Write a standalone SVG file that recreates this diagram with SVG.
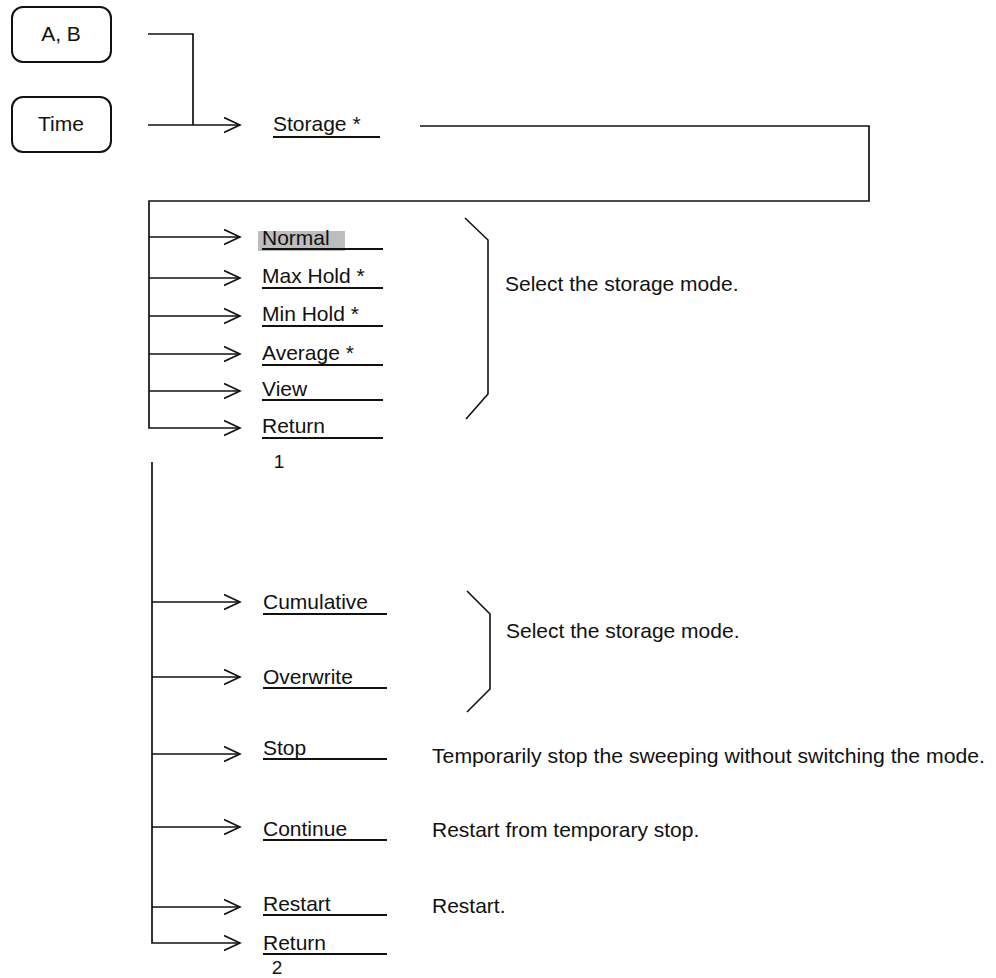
<svg xmlns="http://www.w3.org/2000/svg" width="996" height="978" viewBox="0 0 996 978">
<defs>
<style>
text{font-family:"Liberation Sans",Arial,sans-serif;font-size:21px;fill:#111}
.box{fill:#fff;stroke:#111;stroke-width:2}
.c{fill:none;stroke:#111;stroke-width:1.7}
.ul{stroke:#111;stroke-width:2}
.br{fill:none;stroke:#111;stroke-width:1.6}
</style>
<marker id="arr" markerUnits="userSpaceOnUse" markerWidth="18" markerHeight="18" refX="16" refY="8" orient="auto" viewBox="0 0 18 16">
<path d="M0,0.5 L16,8 L0,15.5" fill="none" stroke="#111" stroke-width="1.6"/>
</marker>
</defs>
<rect width="996" height="978" fill="#fff"/>

<g id="connectors">
<path class="c" d="M148,34 H193 V125"/>
<path class="c" d="M148,125 H240" marker-end="url(#arr)"/>
<path class="c" d="M420,126 H869 V201 H149 V428 H240" marker-end="url(#arr)"/>
<path class="c" d="M149,237 H240" marker-end="url(#arr)"/>
<path class="c" d="M149,278 H240" marker-end="url(#arr)"/>
<path class="c" d="M149,316 H240" marker-end="url(#arr)"/>
<path class="c" d="M149,354 H240" marker-end="url(#arr)"/>
<path class="c" d="M149,391 H240" marker-end="url(#arr)"/>
<path class="c" d="M152,462 V943 H240" marker-end="url(#arr)"/>
<path class="c" d="M152,602 H240" marker-end="url(#arr)"/>
<path class="c" d="M152,677 H240" marker-end="url(#arr)"/>
<path class="c" d="M152,754 H240" marker-end="url(#arr)"/>
<path class="c" d="M152,827 H240" marker-end="url(#arr)"/>
<path class="c" d="M152,907 H240" marker-end="url(#arr)"/>
</g>

<g id="node-ab">
<rect class="box" x="12" y="7" width="99" height="55" rx="11"/>
<text x="61" y="41" text-anchor="middle">A, B</text>
</g>
<g id="node-time">
<rect class="box" x="12" y="97" width="99" height="55" rx="11"/>
<text x="61" y="131" text-anchor="middle">Time</text>
</g>
<g id="node-storage">
<text x="273" y="131">Storage *</text>
<line class="ul" x1="273" y1="137" x2="380" y2="137"/>
</g>

<g id="node-normal">
<rect x="258" y="231" width="87" height="20" fill="#bdbdbd"/>
<text x="262" y="245">Normal</text>
<line class="ul" x1="262" y1="249" x2="383" y2="249"/>
</g>
<g id="node-maxhold">
<text x="262" y="283">Max Hold *</text>
<line class="ul" x1="262" y1="288" x2="383" y2="288"/>
</g>
<g id="node-minhold">
<text x="262" y="321">Min Hold *</text>
<line class="ul" x1="262" y1="326" x2="383" y2="326"/>
</g>
<g id="node-average">
<text x="262" y="360">Average *</text>
<line class="ul" x1="262" y1="365" x2="383" y2="365"/>
</g>
<g id="node-view">
<text x="262" y="396">View</text>
<line class="ul" x1="262" y1="400" x2="383" y2="400"/>
</g>
<g id="node-return1">
<text x="262" y="433">Return</text>
<line class="ul" x1="262" y1="438" x2="383" y2="438"/>
<text x="279" y="468" text-anchor="middle" style="font-size:19px">1</text>
</g>
<g id="note-select1">
<path class="br" d="M465,218 L488,240 V394 L466,419"/>
<text x="505" y="291">Select the storage mode.</text>
</g>

<g id="node-cumulative">
<text x="263" y="609">Cumulative</text>
<line class="ul" x1="263" y1="614" x2="387" y2="614"/>
</g>
<g id="node-overwrite">
<text x="263" y="684">Overwrite</text>
<line class="ul" x1="263" y1="688" x2="387" y2="688"/>
</g>
<g id="note-select2">
<path class="br" d="M467,591 L490,614 V689 L467,712"/>
<text x="506" y="638">Select the storage mode.</text>
</g>
<g id="node-stop">
<text x="263" y="755">Stop</text>
<line class="ul" x1="263" y1="759" x2="387" y2="759"/>
<text x="432" y="763" textLength="553" lengthAdjust="spacingAndGlyphs">Temporarily stop the sweeping without switching the mode.</text>
</g>
<g id="node-continue">
<text x="263" y="836">Continue</text>
<line class="ul" x1="263" y1="840" x2="387" y2="840"/>
<text x="432" y="837">Restart from temporary stop.</text>
</g>
<g id="node-restart">
<text x="263" y="911">Restart</text>
<line class="ul" x1="263" y1="915" x2="387" y2="915"/>
<text x="432" y="913">Restart.</text>
</g>
<g id="node-return2">
<text x="263" y="950">Return</text>
<line class="ul" x1="263" y1="954" x2="387" y2="954"/>
<text x="277" y="974" text-anchor="middle" style="font-size:19px">2</text>
</g>
</svg>
